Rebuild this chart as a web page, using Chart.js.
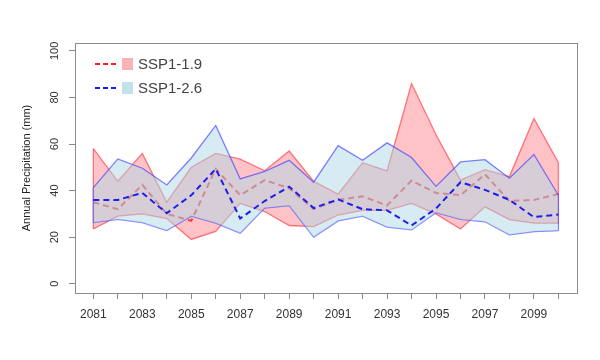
<!DOCTYPE html>
<html>
<head>
<meta charset="utf-8">
<script src="https://cdn.jsdelivr.net/npm/chart.js@4.4.1/dist/chart.umd.min.js"></script>
<style>
  html, body { margin: 0; padding: 0; background: #fff; }
  #wrap { width: 600px; height: 360px; }
</style>
</head>
<body>
<div id="wrap"><canvas id="myChart" width="600" height="360"></canvas></div>
<script>
const years = [2081, 2082, 2083, 2084, 2085, 2086, 2087, 2088, 2089, 2090,
               2091, 2092, 2093, 2094, 2095, 2096, 2097, 2098, 2099, 2100];

// SSP1-1.9 band (max / min) and ensemble mean
const ssp119Upper = [58, 44, 56, 35, 50, 56, 53.5, 48.5, 57, 44,
                     38.5, 52, 48.5, 86, 64, 44.5, 49, 46, 71, 52];
const ssp119Lower = [23.5, 29, 30, 28, 19, 22.5, 34.5, 31, 25, 24.5,
                     29.5, 31.5, 31.5, 34.5, 30, 23.5, 33, 27.5, 26, 26];
const ssp119Mean = [35, 32, 42.5, 30, 27, 49.3, 38, 44.5, 41, 32,
                    36, 37.5, 33.6, 44.3, 39, 38, 47, 35.5, 36, 38.5];

// SSP1-2.6 band (max / min) and ensemble mean
const ssp126Upper = [41.3, 53.6, 49.6, 42.4, 54, 68, 45, 48.2, 53, 43.6,
                     59.3, 53, 60.5, 54.2, 41.8, 52.3, 53.3, 45.3, 55.5, 38];
const ssp126Lower = [26.2, 27.6, 26.2, 22.8, 29, 26, 21.7, 32.5, 33.5, 20,
                     27, 29, 24.3, 23.1, 30.5, 27.6, 26.6, 21, 22.4, 22.8];
const ssp126Mean = [36, 36, 39, 30.3, 38, 49.3, 28, 35.5, 41.7, 32.5,
                    36.2, 32, 31.5, 25, 32.3, 43.6, 40.3, 36, 28.6, 29.7];

const yTicks = [0, 20, 40, 60, 80, 100];
const xLabelYears = [2081, 2083, 2085, 2087, 2089, 2091, 2093, 2095, 2097, 2099];

const redLine = 'rgba(255, 40, 50, 0.6)';
const redFill = 'rgba(255, 0, 20, 0.24)';
const redMean = 'rgba(235, 40, 40, 0.85)';
const blueLine = 'rgba(60, 60, 255, 0.65)';
const blueFill = 'rgba(173, 216, 230, 0.5)';
const blueMean = 'rgb(30, 30, 235)';

const font = 'Liberation Sans, Arial, sans-serif';

function pts(values) {
    return years.map((yr, i) => ({ x: yr, y: values[i] }));
}

// closing edge of a polygon at the first or last year
function edge(upper, lower, i) {
    return [{ x: years[i], y: upper[i] }, { x: years[i], y: lower[i] }];
}

function lineSet(data, color, width, extra) {
    return Object.assign({
        data: data,
        borderColor: color,
        borderWidth: width,
        pointRadius: 0,
        tension: 0,
        fill: false
    }, extra || {});
}

const last = years.length - 1;

// higher order is drawn first (underneath)
const datasets = [
    lineSet(pts(ssp126Mean), blueMean, 2, { borderDash: [6, 4], order: 0 }),
    lineSet(pts(ssp126Upper), blueLine, 1.3, { fill: { target: 2 }, backgroundColor: blueFill, order: 1 }),
    lineSet(pts(ssp126Lower), blueLine, 1.3, { order: 2 }),
    lineSet(edge(ssp126Upper, ssp126Lower, 0), blueLine, 1.3, { order: 2 }),
    lineSet(edge(ssp126Upper, ssp126Lower, last), blueLine, 1.3, { order: 2 }),
    lineSet(pts(ssp119Mean), redMean, 2, { borderDash: [6, 4], order: 3 }),
    lineSet(pts(ssp119Upper), redLine, 1.3, { fill: { target: 7 }, backgroundColor: redFill, order: 4 }),
    lineSet(pts(ssp119Lower), redLine, 1.3, { order: 5 }),
    lineSet(edge(ssp119Upper, ssp119Lower, 0), redLine, 1.3, { order: 5 }),
    lineSet(edge(ssp119Upper, ssp119Lower, last), redLine, 1.3, { order: 5 })
];

const boxPlugin = {
    id: 'box',
    afterDraw(chart) {
        const a = chart.chartArea;
        const c = chart.ctx;
        c.save();
        c.strokeStyle = '#8a8a8a';
        c.lineWidth = 1;
        c.strokeRect(Math.round(a.left) + 0.5, Math.round(a.top) + 0.5,
                     Math.round(a.right - a.left), Math.round(a.bottom - a.top));
        c.restore();
    }
};

const legendPlugin = {
    id: 'bandLegend',
    afterDraw(chart) {
        const c = chart.ctx;
        const rows = [
            { label: 'SSP1-1.9', line: 'rgb(255, 30, 30)', box: 'rgba(255, 60, 80, 0.4)', y: 64 },
            { label: 'SSP1-2.6', line: 'rgb(30, 30, 235)', box: 'rgba(173, 216, 230, 0.75)', y: 88 }
        ];
        c.save();
        rows.forEach(r => {
            c.setLineDash([5, 3]);
            c.lineWidth = 2;
            c.strokeStyle = r.line;
            c.beginPath();
            c.moveTo(95, r.y);
            c.lineTo(118, r.y);
            c.stroke();
            c.setLineDash([]);
            c.fillStyle = r.box;
            c.fillRect(122, r.y - 6, 11, 12);
            c.fillStyle = '#444';
            c.font = '15px ' + font;
            c.textBaseline = 'middle';
            c.fillText(r.label, 138, r.y + 1);
        });
        c.restore();
    }
};

const ctx = document.getElementById('myChart').getContext('2d');
const myChart = new Chart(ctx, {
    type: 'line',
    data: { datasets: datasets },
    options: {
        responsive: false,
        animation: false,
        parsing: true,
        layout: { padding: { top: 43, right: 23, left: 0, bottom: 0 } },
        plugins: {
            legend: { display: false },
            tooltip: { enabled: false }
        },
        scales: {
            x: {
                type: 'linear',
                min: 2080.25,
                max: 2100.76,
                afterBuildTicks: s => { s.ticks = years.map(v => ({ value: v })); },
                afterFit: s => { s.height = 67; },
                grid: { drawOnChartArea: false, tickLength: 6, color: '#888' },
                border: { display: false },
                ticks: {
                    autoSkip: false,
                    maxRotation: 0,
                    padding: 8,
                    color: '#333',
                    font: { family: font, size: 12 },
                    callback: v => xLabelYears.includes(v) ? String(v) : ''
                }
            },
            y: {
                min: -4,
                max: 103.4,
                afterBuildTicks: s => { s.ticks = yTicks.map(v => ({ value: v })); },
                afterFit: s => { s.width = 75; },
                grid: { drawOnChartArea: false, tickLength: 6, color: '#888' },
                border: { display: false },
                ticks: {
                    minRotation: 90,
                    maxRotation: 90,
                    crossAlign: 'center',
                    padding: 5,
                    color: '#333',
                    font: { family: font, size: 11 }
                },
                title: {
                    display: true,
                    text: 'Annual Precipitation (mm)',
                    color: '#222',
                    font: { family: font, size: 11 },
                    padding: { top: 20, bottom: 0 }
                }
            }
        }
    },
    plugins: [boxPlugin, legendPlugin]
});
</script>
</body>
</html>
